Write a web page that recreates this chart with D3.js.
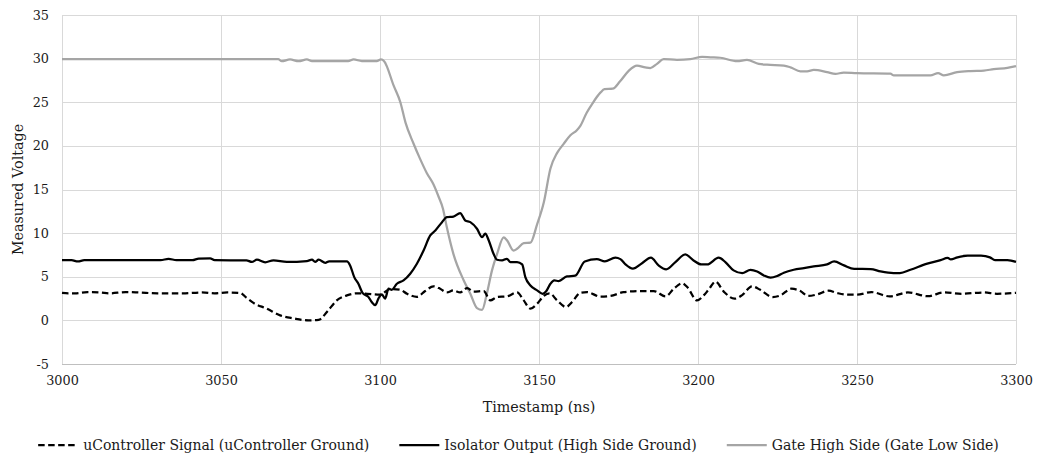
<!DOCTYPE html>
<html>
<head>
<meta charset="utf-8">
<script src="https://cdn.jsdelivr.net/npm/d3@7"></script>
<style>
  html, body { margin: 0; padding: 0; background: #fff; }
  svg text { font-family: "DejaVu Serif", "Liberation Serif", serif; fill: #1a1a1a; }
</style>
</head>
<body>
<svg id="chart" width="1037" height="458"></svg>
<script>
// ---- data ----
const xTicks = [3000, 3050, 3100, 3150, 3200, 3250, 3300];
const yTicks = [-5, 0, 5, 10, 15, 20, 25, 30, 35];
const seriesNames = [
  "uController Signal (uController Ground)",
  "Isolator Output (High Side Ground)",
  "Gate High Side (Gate Low Side)"
];

const uctrlTime = [3000,3002,3004,3008,3012,3015,3020,3024,3030,3038,3044,3048,3052,3056,3058,3060.2,3064.4,3068.6,3072.8,3077.5,3080.7,3083.5,3086.4,3089.6,3092.7,3096,3100,3103.2,3106.4,3108.5,3111.6,3114.2,3116.8,3118.9,3121,3123.1,3125.2,3127.4,3129.4,3132.6,3134.7,3136.8,3139.9,3143.1,3145.2,3147.3,3149.4,3151.5,3153.3,3155.7,3158.5,3160.4,3163,3165.1,3169.3,3172.4,3176.6,3181.9,3186.1,3189.8,3192.4,3195,3196.6,3199.7,3201.8,3203.5,3205.5,3208.1,3211.5,3213.9,3217,3219.6,3223.5,3225.9,3229.4,3232.2,3234.6,3237.5,3241,3243.8,3247,3250,3254.5,3260.3,3266,3272.3,3277.3,3283,3289.9,3294,3300];
const uctrlValues = [3.15,3.1,3.1,3.24,3.2,3.1,3.24,3.2,3.1,3.1,3.2,3.1,3.2,3.15,2.6,2.0,1.34,0.57,0.23,0.0,0.05,1.05,2.29,2.86,3.1,3.05,2.95,3.6,3.5,3.05,2.7,3.36,3.9,3.63,3.2,3.44,3.2,3.7,3.3,3.36,2.29,2.67,2.75,3.2,2.29,1.34,1.9,2.8,3.1,2.29,1.53,2.1,3.17,3.24,2.72,2.79,3.24,3.36,3.36,2.75,3.63,4.25,3.82,2.29,2.86,3.6,4.45,3.3,2.48,2.9,3.9,3.5,2.67,2.86,3.63,3.36,2.8,2.98,3.4,3.13,2.95,2.94,3.24,2.75,3.2,2.77,3.2,3.05,3.2,3.05,3.15];

const isoTime = [3000,3003,3005,3007,3031,3033.5,3036,3041,3043,3046.6,3048,3058,3059.7,3061.3,3063.9,3066.5,3070.7,3077,3078.6,3079.6,3080.7,3082.8,3084,3089.6,3090.6,3091.9,3093.2,3094.5,3096.4,3097.4,3098.5,3099.5,3100.6,3101.6,3102.7,3103.7,3105.3,3107.4,3109.5,3111.6,3113.7,3115.8,3117.4,3119.5,3121,3123.1,3125.2,3126.8,3128.4,3130.5,3132.1,3133.1,3134.2,3135.7,3136.8,3138.4,3139.9,3141,3143.1,3144.7,3145.7,3147.3,3149.4,3151.2,3152.2,3153.6,3154.8,3156.2,3158.8,3161.4,3164.4,3168.2,3170.7,3174,3175.6,3177.2,3179.5,3182.4,3185.2,3187.6,3190,3192.9,3196,3198.6,3201,3202.9,3206.5,3208.6,3211.2,3213.9,3216.5,3218.6,3220.7,3222.8,3224.9,3227,3230.1,3233.3,3236.4,3240.6,3242.8,3245.9,3249.1,3254.3,3257.4,3261.5,3263.5,3266.8,3272.1,3276.3,3278.5,3279.5,3281.6,3284.8,3289,3291.8,3293.4,3297.3,3300];
const isoValues = [6.9,6.9,6.75,6.9,6.9,7.05,6.9,6.9,7.08,7.1,6.9,6.88,6.7,6.95,6.66,6.88,6.7,6.8,6.95,6.7,6.95,6.6,6.76,6.76,6.3,4.96,4.2,3.15,2.67,2.1,1.75,2.5,2.98,2.5,3.63,3.51,4.2,4.58,5.35,6.49,8.0,9.73,10.3,11.26,11.83,11.9,12.3,11.45,11.26,10.5,9.54,9.93,9.16,7.63,6.95,6.87,7.06,6.68,6.68,6.41,4.96,4.0,3.44,3.05,3.3,4.2,4.58,4.5,5.04,5.12,6.75,7.02,6.76,7.18,7.02,6.41,5.92,6.55,7.18,6.3,5.85,6.68,7.56,6.87,6.41,6.41,7.18,6.68,5.73,5.42,5.8,5.61,5.15,4.89,5.08,5.46,5.8,5.99,6.18,6.41,6.76,6.3,5.9,5.88,5.61,5.42,5.42,5.8,6.5,6.9,7.16,6.98,7.22,7.42,7.41,7.22,6.9,6.9,6.7];

const gateTime = [3000,3068,3069.1,3071.7,3074.4,3077,3078.6,3090,3091.7,3094.3,3099,3100.3,3101.3,3104.3,3106.4,3108,3110.5,3112.5,3114.7,3116.8,3118.4,3119.8,3121,3123.1,3126.3,3128.4,3130.5,3132.1,3133.6,3135.2,3136.8,3138.9,3139.9,3142,3143.1,3145.2,3147.3,3149.4,3151.5,3153.6,3155.7,3157.7,3159.8,3161.9,3163,3165,3166.7,3169.3,3170.6,3173.2,3175.5,3178.2,3180.8,3183.4,3185,3187.1,3189.2,3193.4,3197.6,3201.3,3203.9,3207,3212.3,3215.4,3219.1,3221.7,3227,3229.1,3232.2,3234.3,3236.4,3240.6,3243.2,3245.8,3250,3260.5,3261.6,3273.1,3275.5,3277.3,3281.5,3285.7,3289.9,3293,3297.3,3300];
const gateValues = [29.93,29.93,29.7,29.9,29.7,29.9,29.72,29.72,29.9,29.72,29.72,29.9,29.7,26.9,25.0,22.7,20.3,18.6,16.9,15.6,14.2,12.8,10.7,7.6,4.6,3.05,1.4,1.2,3.05,5.7,7.6,9.5,9.2,8.0,8.2,8.85,8.9,11.0,13.5,17.4,19.2,20.2,21.2,21.8,22.3,23.8,24.8,26.1,26.5,26.55,27.4,28.6,29.2,29.0,28.92,29.4,29.95,29.87,29.95,30.2,30.15,30.1,29.7,29.85,29.4,29.3,29.2,29.0,28.55,28.55,28.7,28.45,28.25,28.4,28.33,28.27,28.08,28.08,28.33,28.08,28.45,28.58,28.63,28.8,28.95,29.15];

// ---- layout ----
const svg = d3.select("#chart");
const W = 1037, H = 458;
const m = { left: 62, right: 1016, top: 15, bottom: 364 };

const x = d3.scaleLinear().domain([3000, 3300]).range([m.left, m.right]);
const y = d3.scaleLinear().domain([-5, 35]).range([m.bottom, m.top]);

// gridlines
const grid = svg.append("g");
grid.selectAll("line.h").data(yTicks).join("line")
  .attr("x1", m.left).attr("x2", m.right)
  .attr("y1", d => Math.round(y(d)) + 0.5).attr("y2", d => Math.round(y(d)) + 0.5)
  .attr("stroke", d => d === -5 ? "#bfbfbf" : "#d9d9d9").attr("stroke-width", 1);
grid.selectAll("line.v").data(xTicks).join("line")
  .attr("y1", m.top).attr("y2", m.bottom)
  .attr("x1", d => Math.round(x(d)) + 0.5).attr("x2", d => Math.round(x(d)) + 0.5)
  .attr("stroke", "#d9d9d9").attr("stroke-width", 1);

// axes (labels only)
const fmt = d => String(d);
const yAxis = d3.axisLeft(y).tickValues(yTicks).tickSize(0).tickPadding(13).tickFormat(fmt);
const gy = svg.append("g").attr("transform", `translate(${m.left},0)`).call(yAxis);
gy.select(".domain").remove();
gy.selectAll("text").attr("font-size", 12.8).attr("fill", "#1a1a1a")
  .attr("font-family", '"DejaVu Serif", serif');

const xAxis = d3.axisBottom(x).tickValues(xTicks).tickSize(0).tickPadding(12).tickFormat(fmt);
const gx = svg.append("g").attr("transform", `translate(0,${m.bottom})`).call(xAxis);
gx.select(".domain").remove();
gx.selectAll("text").attr("font-size", 12.8).attr("fill", "#1a1a1a")
  .attr("font-family", '"DejaVu Serif", serif');

// axis titles
svg.append("text")
  .attr("transform", `translate(19,${(m.top + m.bottom) / 2}) rotate(-90)`)
  .attr("text-anchor", "middle").attr("dominant-baseline", "middle")
  .attr("font-size", 14.3).text("Measured Voltage");
svg.append("text")
  .attr("x", (m.left + m.right) / 2).attr("y", 412)
  .attr("text-anchor", "middle")
  .attr("font-size", 14.3).text("Timestamp (ns)");

// lines
const series = [
  { name: seriesNames[0], t: uctrlTime, v: uctrlValues, color: "#000000", dash: "6.5,3.5" },
  { name: seriesNames[1], t: isoTime, v: isoValues, color: "#000000", dash: null },
  { name: seriesNames[2], t: gateTime, v: gateValues, color: "#a5a5a5", dash: null }
];
const line = d3.line().x(d => x(d[0])).y(d => y(d[1])).curve(d3.curveMonotoneX);
const drawOrder = [2, 0, 1];
drawOrder.forEach(i => {
  const s = series[i];
  svg.append("path")
    .datum(d3.zip(s.t, s.v))
    .attr("fill", "none")
    .attr("stroke", s.color)
    .attr("stroke-width", 2.25)
    .attr("stroke-linejoin", "round")
    .attr("stroke-dasharray", s.dash)
    .attr("d", line);
});

// legend
const legY = 445;
const sampleLen = 40, sampleGap = 5, itemGap = 30;
const leg = svg.append("g");
const items = series.map(s => {
  const g = leg.append("g");
  g.append("line").attr("x1", 0).attr("x2", sampleLen).attr("y1", legY).attr("y2", legY)
    .attr("stroke", s.color).attr("stroke-width", 2.25).attr("stroke-dasharray", s.dash);
  const t = g.append("text").attr("x", sampleLen + sampleGap).attr("y", legY)
    .attr("dominant-baseline", "central").attr("font-size", 14).text(s.name);
  return { g, w: sampleLen + sampleGap + t.node().getComputedTextLength() };
});
const total = d3.sum(items, d => d.w) + itemGap * (items.length - 1);
let cx = W / 2 - total / 2;
items.forEach(it => { it.g.attr("transform", `translate(${cx},0)`); cx += it.w + itemGap; });
</script>
</body>
</html>
